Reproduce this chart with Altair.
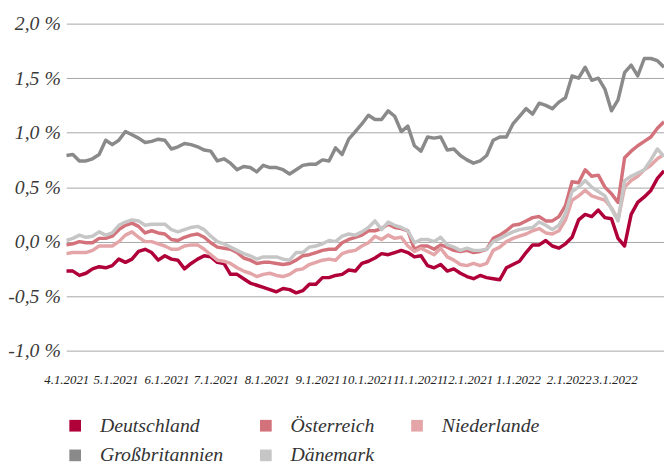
import altair as alt
import pandas as pd

# sampling dates (every 4 days, 1 Apr 2021 - 31 Mar 2022)
dates = pd.date_range("2021-04-01", "2022-03-31", freq="4D").strftime("%Y-%m-%d").tolist()

laender = ["Deutschland", "Österreich", "Niederlande", "Großbritannien", "Dänemark"]
farben = ["#B0003A", "#D4727C", "#E4A5A8", "#8A8A8A", "#C6C6C6"]

deutschland = [-0.27, -0.27, -0.31, -0.29, -0.25, -0.23, -0.24, -0.22, -0.16, -0.19,
               -0.16, -0.09, -0.07, -0.10, -0.17, -0.13, -0.16, -0.17, -0.25, -0.20,
               -0.16, -0.13, -0.14, -0.19, -0.20, -0.30, -0.30, -0.34, -0.38, -0.40,
               -0.42, -0.44, -0.46, -0.43, -0.44, -0.47, -0.45, -0.39, -0.39, -0.33,
               -0.33, -0.31, -0.30, -0.26, -0.27, -0.20, -0.18, -0.15, -0.11, -0.12,
               -0.10, -0.08, -0.10, -0.14, -0.13, -0.22, -0.24, -0.21, -0.27, -0.25,
               -0.29, -0.32, -0.34, -0.31, -0.33, -0.34, -0.35, -0.24, -0.21, -0.18,
               -0.10, -0.03, -0.03, 0.01, -0.04, -0.06, -0.02, 0.04, 0.20, 0.25,
               0.23, 0.29, 0.22, 0.21, 0.03, -0.04, 0.25, 0.36, 0.41, 0.47,
               0.58, 0.65]

oesterreich = [-0.03, -0.02, 0.00, -0.01, -0.01, 0.03, 0.03, 0.05, 0.11, 0.15,
               0.17, 0.14, 0.08, 0.10, 0.08, 0.07, 0.02, 0.01, 0.04, 0.06,
               0.07, 0.04, -0.01, -0.05, -0.06, -0.07, -0.10, -0.15, -0.17, -0.20,
               -0.19, -0.19, -0.20, -0.21, -0.20, -0.17, -0.13, -0.12, -0.10, -0.08,
               -0.07, -0.07, -0.01, 0.02, 0.04, 0.06, 0.10, 0.10, 0.12, 0.16,
               0.13, 0.12, 0.10, -0.07, -0.04, -0.04, -0.07, -0.03, -0.05, -0.08,
               -0.09, -0.08, -0.10, -0.09, -0.07, 0.03, 0.06, 0.10, 0.15, 0.16,
               0.19, 0.22, 0.23, 0.19, 0.19, 0.23, 0.33, 0.55, 0.54, 0.66,
               0.60, 0.61, 0.50, 0.44, 0.36, 0.77, 0.83, 0.88, 0.92, 0.96,
               1.04, 1.10]

niederlande = [-0.11, -0.10, -0.10, -0.10, -0.08, -0.04, -0.04, -0.04, 0.00, 0.06,
               0.09, 0.04, 0.00, 0.00, -0.02, -0.04, -0.07, -0.07, -0.04, -0.03,
               -0.03, -0.07, -0.12, -0.17, -0.18, -0.20, -0.24, -0.27, -0.29, -0.32,
               -0.30, -0.29, -0.31, -0.32, -0.30, -0.26, -0.25, -0.21, -0.19, -0.17,
               -0.16, -0.17, -0.11, -0.09, -0.08, -0.04, -0.01, 0.05, 0.02, 0.06,
               0.03, 0.04, -0.04, -0.09, -0.06, -0.09, -0.12, -0.06, -0.14, -0.17,
               -0.21, -0.22, -0.20, -0.22, -0.20, -0.08, -0.05, 0.00, 0.03, 0.05,
               0.07, 0.10, 0.12, 0.08, 0.07, 0.10, 0.20, 0.38, 0.42, 0.47,
               0.42, 0.40, 0.38, 0.31, 0.20, 0.50, 0.56, 0.60, 0.66, 0.70,
               0.76, 0.80]

grossbritannien = [0.79, 0.80, 0.74, 0.74, 0.76, 0.80, 0.93, 0.89, 0.93, 1.01,
                   0.98, 0.95, 0.91, 0.92, 0.94, 0.93, 0.85, 0.87, 0.90, 0.89,
                   0.87, 0.84, 0.83, 0.74, 0.76, 0.72, 0.66, 0.69, 0.68, 0.64,
                   0.70, 0.68, 0.68, 0.66, 0.62, 0.66, 0.70, 0.71, 0.71, 0.75,
                   0.74, 0.86, 0.80, 0.94, 1.01, 1.08, 1.16, 1.12, 1.12, 1.20,
                   1.15, 1.01, 1.06, 0.88, 0.83, 0.96, 0.95, 0.96, 0.84, 0.85,
                   0.79, 0.75, 0.72, 0.74, 0.79, 0.93, 0.96, 0.96, 1.08, 1.15,
                   1.22, 1.17, 1.27, 1.25, 1.22, 1.28, 1.32, 1.52, 1.50, 1.60,
                   1.48, 1.50, 1.40, 1.20, 1.30, 1.55, 1.62, 1.52, 1.68, 1.68,
                   1.66, 1.60]

daenemark = [0.01, 0.03, 0.06, 0.04, 0.05, 0.09, 0.06, 0.08, 0.15, 0.18,
             0.20, 0.19, 0.15, 0.16, 0.16, 0.16, 0.11, 0.09, 0.11, 0.13,
             0.14, 0.11, 0.05, 0.00, -0.02, -0.05, -0.08, -0.11, -0.13, -0.16,
             -0.14, -0.14, -0.14, -0.16, -0.17, -0.10, -0.10, -0.05, -0.04, -0.02,
             0.01, 0.00, 0.05, 0.07, 0.06, 0.09, 0.13, 0.19, 0.11, 0.18,
             0.15, 0.13, 0.10, -0.01, 0.02, 0.02, 0.00, 0.04, -0.03, -0.05,
             -0.08, -0.06, -0.08, -0.08, -0.07, 0.00, 0.03, 0.06, 0.09, 0.11,
             0.12, 0.13, 0.18, 0.15, 0.11, 0.15, 0.26, 0.46, 0.50, 0.56,
             0.50, 0.46, 0.42, 0.30, 0.19, 0.56, 0.60, 0.63, 0.66, 0.75,
             0.85, 0.78]

x_labels = ["4.1.2021", "5.1.2021", "6.1.2021", "7.1.2021", "8.1.2021", "9.1.2021",
            "10.1.2021", "11.1.2021", "12.1.2021", "1.1.2022", "2.1.2022", "3.1.2022"]
y_ticks = [-1.0, -0.5, 0.0, 0.5, 1.0, 1.5, 2.0]
y_labels = ["-1,0 %", "-0,5 %", "0,0 %", "0,5 %", "1,0 %", "1,5 %", "2,0 %"]

rows = []
for i, (name, vals) in enumerate(zip(laender, [deutschland, oesterreich, niederlande,
                                               grossbritannien, daenemark])):
    for d, v in zip(dates, vals):
        rows.append({"date": d, "land": name, "rendite": v, "rang": i})
df = pd.DataFrame(rows)

month_ticks = [alt.DateTime(year=int(l.split(".")[2]), month=int(l.split(".")[0]), date=1, utc=True)
               for l in x_labels]
x_expr = "[" + ",".join("'%s'" % l for l in x_labels) + "][(utcyear(datum.value)-2021)*12+utcmonth(datum.value)-3]"
y_expr = "[" + ",".join("'%s'" % l for l in y_labels) + "][round((datum.value+1)*2)]"

FONT = "Liberation Serif"

x_enc = alt.X("date:T", title=None,
              scale=alt.Scale(type="utc",
                              domain=[alt.DateTime(year=2021, month=4, date=1, utc=True),
                                      alt.DateTime(year=2022, month=3, date=31, utc=True)]),
              axis=alt.Axis(values=month_ticks, labelExpr=x_expr, grid=False, domain=False,
                            ticks=False, labelFont=FONT, labelFontStyle="italic",
                            labelFontSize=13, labelColor="#222222", labelPadding=23,
                            labelOverlap=False, labelFlush=False, labelBound=False))
y_enc = alt.Y("rendite:Q", title=None,
              scale=alt.Scale(domain=[-1, 2], nice=False, zero=False),
              axis=alt.Axis(values=y_ticks, labelExpr=y_expr, grid=True, gridColor="#A6A6A6",
                            gridWidth=1, domain=False, ticks=False, labelFont=FONT,
                            labelFontStyle="italic", labelFontSize=20, labelColor="#3A3A3A",
                            labelPadding=6))
cscale = alt.Scale(domain=laender, range=farben)

lines = alt.Chart(df).mark_line(strokeWidth=3.5, strokeJoin="round", clip=True).encode(
    x=x_enc, y=y_enc,
    color=alt.Color("land:N", scale=cscale, sort=laender, legend=None),
    order=alt.Order("rang:Q"),
)
keys = alt.Chart(df).mark_square(size=0, opacity=1).encode(
    x=x_enc, y=y_enc,
    color=alt.Color("land:N", scale=cscale, sort=laender,
                    legend=alt.Legend(orient="none", legendX=-1, legendY=397, columns=3,
                                      direction="horizontal",
                                      title=None, symbolType="square", symbolSize=140,
                                      symbolStrokeWidth=0, labelFont=FONT,
                                      labelFontStyle="italic", labelFontSize=20,
                                      labelColor="#333333", labelOffset=15, rowPadding=10,
                                      columnPadding=33, padding=0, labelLimit=400)),
)

chart = alt.layer(keys, lines).resolve_legend(color="independent").properties(
    width=605, height=331,
    autosize=alt.AutoSizeParams(type="none"),
    padding={"left": 59, "top": 13, "right": 0, "bottom": 119},
).configure_view(stroke=None)

chart.save("out.html", embed_options={"renderer": "svg", "actions": False})
